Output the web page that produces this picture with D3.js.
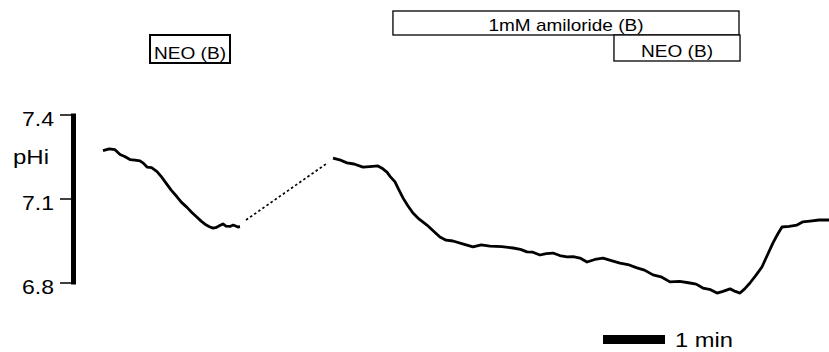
<!DOCTYPE html>
<html><head><meta charset="utf-8">
<script src="https://cdn.jsdelivr.net/npm/d3@7"></script>
<style>
html,body{margin:0;padding:0;background:#fff;}
svg{display:block;font-family:"Liberation Sans",Arial,sans-serif;}
</style></head>
<body><svg id="c" width="829" height="352"></svg>
<script>
// time in seconds, pH values
const seg1T = [0, 6, 11.6, 16.5, 21, 26.1, 31, 35.8, 39, 42.6, 47, 52.3, 56, 61.9, 66, 71.6, 76, 81.3, 86, 91.0, 95, 98.7, 103, 106.5, 110, 113, 116.1, 119, 122.9, 126, 130.6, 132.6];
const seg1P = [7.273, 7.279, 7.276, 7.259, 7.252, 7.241, 7.239, 7.236, 7.228, 7.214, 7.212, 7.198, 7.182, 7.152, 7.132, 7.108, 7.088, 7.070, 7.052, 7.035, 7.021, 7.010, 7.001, 6.996, 6.999, 7.005, 7.011, 7.003, 7.002, 7.007, 7.000, 7.001];
const gapT = [138.4, 215.8];
const gapP = [7.025, 7.225];
const seg2T = [222.6, 229, 236.1, 243, 251.6, 258, 266.1, 270, 274.8, 278, 282.6, 286, 290.3, 295, 300.0, 306, 313.5, 320, 326.1, 332, 338.7, 348, 358.1, 366, 374.5, 386, 396.8, 404, 410.3, 416, 422.9, 429, 435.5, 442, 449.0, 455, 461.6, 468.4, 476, 483.9, 492, 500.3, 508, 516.8, 524, 532.3, 540, 548.7, 558, 568.1, 574, 580.6, 588, 594.2, 600, 606.8, 612, 616.5, 621, 626.1, 632, 637.7, 643, 648.4, 653, 657.1, 664, 671.6, 677, 684.2, 693, 702.6];
const seg2P = [7.246, 7.240, 7.229, 7.225, 7.214, 7.216, 7.218, 7.210, 7.196, 7.180, 7.161, 7.135, 7.104, 7.076, 7.050, 7.028, 7.007, 6.985, 6.964, 6.953, 6.950, 6.940, 6.929, 6.936, 6.932, 6.930, 6.925, 6.920, 6.911, 6.910, 6.900, 6.905, 6.907, 6.898, 6.893, 6.894, 6.889, 6.875, 6.884, 6.889, 6.880, 6.871, 6.866, 6.854, 6.846, 6.829, 6.822, 6.804, 6.806, 6.800, 6.796, 6.782, 6.776, 6.764, 6.770, 6.779, 6.770, 6.764, 6.779, 6.800, 6.828, 6.857, 6.900, 6.943, 6.975, 7.000, 7.002, 7.007, 7.018, 7.021, 7.025, 7.025];
const yTicks = [7.4, 7.1, 6.8];
const yLabel = "pHi";
const boxLabels = ["NEO (B)", "1mM amiloride (B)", "NEO (B)"];
const boxStart = [45.5, 280.6, 494.5];
const boxEnd = [122.9, 615.5, 616.5];
const scaleBarSec = 60;
const scaleBarLabel = "1 min";

const svg = d3.select("#c");
const x = d3.scaleLinear().domain([0, 702.6]).range([103, 829]);
const y = d3.scaleLinear().domain([6.8, 7.4]).range([283, 115]);

// y axis
const ax = svg.append("g");
ax.append("line").attr("x1", 73.5).attr("x2", 73.5).attr("y1", y(7.4) - 1.5).attr("y2", y(6.8) + 1.5)
  .attr("stroke", "#000").attr("stroke-width", 5);
ax.selectAll("line.t").data(yTicks).join("line").attr("class", "t")
  .attr("x1", 60).attr("x2", 73).attr("y1", d => y(d)).attr("y2", d => y(d))
  .attr("stroke", "#000").attr("stroke-width", 1.5);
ax.selectAll("text.t").data(yTicks).join("text").attr("class", "t")
  .attr("x", 54).attr("y", d => y(d) + 10.5).attr("text-anchor", "end")
  .attr("font-size", 21).attr("textLength", 32).attr("lengthAdjust", "spacingAndGlyphs")
  .text(d => d.toFixed(1));
ax.append("text").attr("x", 13).attr("y", 164).attr("font-size", 20.5)
  .attr("textLength", 36).attr("lengthAdjust", "spacingAndGlyphs").text(yLabel);

// traces
const line = d3.line().x(d => x(d[0])).y(d => y(d[1]));
const s1 = seg1T.map((t, i) => [t, seg1P[i]]);
const s2 = seg2T.map((t, i) => [t, seg2P[i]]);
const g = gapT.map((t, i) => [t, gapP[i]]);
svg.append("path").attr("d", line(s1)).attr("fill", "none").attr("stroke", "#000").attr("stroke-width", 2.8).attr("stroke-linejoin", "round");
svg.append("path").attr("d", line(s2)).attr("fill", "none").attr("stroke", "#000").attr("stroke-width", 2.8).attr("stroke-linejoin", "round");
svg.append("path").attr("d", line(g)).attr("fill", "none").attr("stroke", "#000").attr("stroke-width", 1.7).attr("stroke-dasharray", "2.5,2.5");

// boxes
const boxY = [35, 11, 35];
const boxH = [28, 24, 26];
const boxSW = [2, 1.3, 1.3];
const boxTL = [72, 155, 72];
boxLabels.forEach((lab, i) => {
  const x0 = x(boxStart[i]), x1 = x(boxEnd[i]);
  svg.append("rect").attr("x", x0).attr("y", boxY[i]).attr("width", x1 - x0).attr("height", boxH[i])
    .attr("fill", "#fff").attr("stroke", "#000").attr("stroke-width", boxSW[i]);
  svg.append("text").attr("x", (x0 + x1) / 2).attr("y", boxY[i] + boxH[i] - 4.5)
    .attr("text-anchor", "middle").attr("font-size", 17)
    .attr("textLength", boxTL[i]).attr("lengthAdjust", "spacingAndGlyphs").text(lab);
});

// scale bar
const sbx0 = 603;
svg.append("rect").attr("x", sbx0).attr("y", 335).attr("width", x(scaleBarSec) - x(0)).attr("height", 9).attr("fill", "#000");
svg.append("text").attr("x", 675).attr("y", 347).attr("font-size", 21)
  .attr("textLength", 58).attr("lengthAdjust", "spacingAndGlyphs").text(scaleBarLabel);
</script></body></html>
